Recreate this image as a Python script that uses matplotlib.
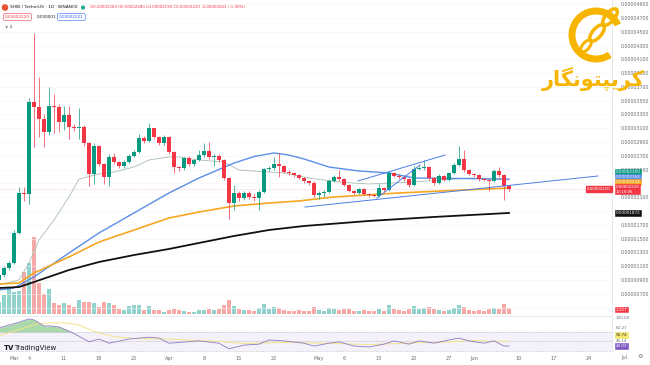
import numpy as np
import pandas as pd
import matplotlib
matplotlib.use("Agg")
import matplotlib.pyplot as plt
import matplotlib.dates as mdates
from matplotlib.patches import Arc, Ellipse, Circle
from matplotlib.transforms import blended_transform_factory as blend

UNIT = 1e-8  # prices below are in units of 0.00000001 USDT
first_day = "2024-02-27"

opens = [900, 972, 1074, 1146, 1582, 2162, 2147, 3481, 3408, 3234,
         3046, 3423, 3408, 3191, 3292, 3118, 3104, 3118, 2886, 2437,
         2843, 2582, 2394, 2684, 2611, 2553, 2611, 2698, 2756, 2959,
         2916, 3104, 2974, 2886, 2974, 2756, 2538, 2524, 2669, 2582,
         2640, 2712, 2770, 2684, 2698, 2640, 2379, 2016, 2162, 2089,
         2162, 2104, 2089, 2176, 2510, 2524, 2582, 2553, 2466, 2452,
         2422, 2379, 2336, 2306, 2132, 2162, 2176, 2336, 2394, 2364,
         2278, 2190, 2162, 2220, 2147, 2132, 2118, 2234, 2205, 2452,
         2408, 2394, 2364, 2278, 2510, 2524, 2538, 2379, 2306, 2408,
         2350, 2452, 2568, 2655, 2495, 2437, 2422, 2364, 2350, 2336,
         2480, 2422, 2263]
closes = [972, 1074, 1146, 1582, 2162, 2147, 3481, 3408, 3234, 3046,
          3423, 3408, 3191, 3292, 3118, 3104, 3118, 2886, 2437, 2843,
          2582, 2394, 2684, 2611, 2553, 2611, 2698, 2756, 2959, 2916,
          3104, 2974, 2886, 2974, 2756, 2538, 2524, 2669, 2582, 2640,
          2712, 2770, 2684, 2698, 2640, 2379, 2016, 2162, 2089, 2162,
          2104, 2089, 2176, 2510, 2524, 2582, 2553, 2466, 2452, 2422,
          2379, 2336, 2306, 2132, 2162, 2176, 2336, 2394, 2364, 2278,
          2190, 2162, 2220, 2147, 2132, 2118, 2234, 2205, 2452, 2408,
          2394, 2364, 2278, 2510, 2524, 2538, 2379, 2306, 2408, 2350,
          2452, 2568, 2655, 2495, 2437, 2422, 2364, 2350, 2336, 2480,
          2422, 2263, 2220]
highs = [1000, 1100, 1180, 1620, 2250, 2250, 3540, 4480, 3840, 3300,
         3700, 3600, 3450, 3420, 3430, 3160, 3390, 3150, 2900, 2880,
         2860, 2600, 2720, 2740, 2630, 2640, 2720, 2790, 3010, 2990,
         3180, 3110, 2990, 3000, 2990, 2770, 2560, 2690, 2700, 2660,
         2780, 2880, 2900, 2730, 2720, 2660, 2400, 2280, 2190, 2190,
         2190, 2140, 2200, 2530, 2560, 2690, 2740, 2570, 2490, 2470,
         2440, 2400, 2350, 2330, 2190, 2200, 2360, 2420, 2500, 2380,
         2290, 2210, 2240, 2240, 2160, 2150, 2290, 2250, 2480, 2470,
         2440, 2410, 2380, 2560, 2560, 2640, 2560, 2400, 2430, 2420,
         2470, 2590, 2840, 2780, 2510, 2450, 2440, 2380, 2370, 2510,
         2540, 2440, 2280]
lows = [870, 950, 1050, 1130, 1560, 2050, 2000, 2830, 2980, 2830,
        3000, 3030, 3050, 3080, 2950, 3060, 2950, 2850, 2270, 2290,
        2550, 2290, 2270, 2580, 2520, 2530, 2590, 2680, 2740, 2880,
        2900, 2950, 2860, 2860, 2730, 2450, 2480, 2490, 2560, 2560,
        2620, 2690, 2660, 2550, 2610, 2350, 1790, 1920, 2050, 2060,
        2080, 2050, 1920, 2160, 2480, 2500, 2400, 2450, 2420, 2400,
        2360, 2310, 2280, 2100, 2080, 2100, 2160, 2320, 2340, 2260,
        2170, 2140, 2140, 2130, 2110, 2100, 2100, 2180, 2190, 2390,
        2370, 2340, 2250, 2270, 2490, 2500, 2350, 2280, 2290, 2330,
        2340, 2440, 2550, 2470, 2420, 2400, 2340, 2330, 2190, 2320,
        2400, 2060, 2190]
# volume, trillion SHIB
volumes = [2.4, 3.8, 5.2, 4.4, 4.6, 8.4, 10.2, 15.4, 6.2, 4.0,
           5.0, 2.2, 1.8, 2.2, 1.8, 1.4, 2.8, 2.4, 2.4, 2.2,
           1.4, 2.4, 2.2, 1.8, 1.0, 0.8, 1.6, 1.8, 1.8, 0.8,
           1.6, 0.8, 0.8, 0.4, 0.8, 1.0, 0.8, 0.6, 0.4, 0.4,
           0.8, 0.8, 1.0, 0.8, 1.0, 1.8, 2.8, 1.6, 1.0, 0.8,
           0.8, 0.6, 1.2, 2.0, 1.0, 1.4, 1.2, 0.8, 0.6, 0.6,
           0.8, 0.6, 0.6, 1.4, 0.8, 0.6, 1.2, 1.0, 0.8, 1.0,
           1.0, 0.6, 0.6, 0.8, 0.6, 0.6, 1.0, 0.6, 1.8, 1.0,
           0.8, 0.6, 1.0, 1.6, 1.0, 1.2, 1.4, 1.0, 0.8, 0.6,
           0.8, 1.2, 1.8, 1.4, 0.8, 0.6, 0.8, 0.6, 1.0, 1.2,
           1.0, 2.0, 1.2]

# moving averages read at a few candles (candle number, value)
ma20_idx = [1, 5, 7, 9, 12, 15, 17, 21, 24, 28, 31, 35, 37, 41, 46, 49, 58, 63, 69, 75, 84, 95, 103]
ma20_val = [828, 900, 1146, 1480, 1770, 2104, 2364, 2437, 2466, 2538, 2640, 2684, 2684, 2640,
            2611, 2495, 2452, 2379, 2321, 2292, 2321, 2379, 2350]
ma50_idx = [1, 4, 8, 15, 21, 28, 35, 41, 48, 52, 56, 59, 62, 67, 73, 79, 84, 103]
ma50_val = [755, 784, 944, 1292, 1582, 1872, 2162, 2379, 2596, 2690, 2742, 2712, 2655, 2538,
            2480, 2452, 2379, 2364]
ma100_idx = [1, 5, 8, 15, 21, 28, 35, 41, 48, 55, 61, 68, 81, 94, 103]
ma100_val = [842, 857, 1002, 1234, 1451, 1625, 1799, 1886, 1973, 2016, 2046, 2104, 2162, 2205, 2234]
ma200_idx = [1, 5, 8, 15, 21, 28, 35, 41, 48, 55, 62, 75, 88, 103]
ma200_val = [784, 798, 871, 1045, 1161, 1262, 1350, 1437, 1538, 1625, 1683, 1756, 1814, 1872]

rsi_idx = [1, 3, 5, 7, 8, 10, 11, 13, 15, 17, 19, 21, 23, 27, 31, 33, 35, 41, 45, 47, 50, 53, 55,
           58, 62, 64, 67, 69, 72, 75, 78, 80, 83, 85, 88, 91, 93, 95, 98, 100, 102, 103]
rsi_val = [79, 85, 91, 98, 96, 83, 83, 81, 72, 61, 49, 55, 46, 55, 59, 57, 46, 51, 46, 34, 42, 44, 53,
           51, 46, 40, 46, 49, 40, 38, 44, 51, 44, 51, 46, 53, 57, 51, 46, 51, 40, 40.03]
rsima_idx = [1, 4, 7, 9, 12, 15, 17, 19, 21, 24, 28, 35, 40, 45, 50, 55, 60, 65, 70, 75, 80, 85,
             90, 95, 100, 103]
rsima_val = [62, 72, 82, 88, 90, 89, 85, 76, 68, 60, 56, 55, 52, 50, 45, 47, 48, 46, 45, 43, 45,
             47, 48, 52, 50, 50.74]

trendlines = [
    ("2024-04-28 05:00", 1958, "2024-06-25 19:00", 2408),
    ("2024-05-08 19:00", 2336, "2024-05-26 05:00", 2712),
    ("2024-05-12 14:00", 2089, "2024-05-21 05:00", 2568),
]

tick_days = ["2024-03-01", "2024-03-04", "2024-03-11", "2024-03-18", "2024-03-25",
             "2024-04-01", "2024-04-08", "2024-04-15", "2024-04-22", "2024-05-01",
             "2024-05-06", "2024-05-13", "2024-05-20", "2024-05-27", "2024-06-01",
             "2024-06-10", "2024-06-17", "2024-06-24", "2024-07-01"]
tick_names = ["Mar", "4", "11", "18", "25", "Apr", "8", "15", "22", "May",
              "6", "13", "20", "27", "Jun", "10", "17", "24", "Jul"]

GREEN = "#089981"
RED = "#f23645"
GOLD = "#f7b500"
AXC = "#6a6d78"


def fmt(v):
    return f"{v * UNIT:.8f}"


def tag(axis, y, s, fc, tc="white", ec=None, size=3.0):
    axis.text(1.006, y, s, transform=blend(axis.transAxes, axis.transData),
              fontsize=size, color=tc, va="center", ha="left", clip_on=False,
              bbox=dict(boxstyle="square,pad=0.2", fc=fc, ec=ec or fc, lw=0.4))


def main():
    days = pd.date_range(first_day, periods=len(closes), freq="D")
    x = mdates.date2num(days)
    x0 = x[0]
    o = np.array(opens) * UNIT
    c = np.array(closes) * UNIT
    h = np.array(highs) * UNIT
    l = np.array(lows) * UNIT
    up = c >= o
    cols = np.where(up, GREEN, RED)

    fig = plt.figure(figsize=(6.5, 3.65), dpi=100)
    fig.patch.set_facecolor("white")

    # volume underneath the candles
    vax = fig.add_axes([0, 51 / 365, 612 / 650, 314 / 365])
    vcols = np.where(up, "#92d2cc", "#f7a9a7")
    vax.bar(x, volumes, width=0.72, color=vcols, zorder=1)
    vax.set_ylim(0, 62.8)
    vax.axis("off")

    ax = fig.add_axes([0, 51 / 365, 612 / 650, 314 / 365], sharex=vax)
    ax.set_zorder(2)
    ax.patch.set_visible(False)
    ax.set_xlim(x0 + 0.2, x0 + 122.6)
    ax.set_ylim(407 * UNIT, 4960 * UNIT)

    ax.vlines(x, l, h, color=cols, lw=0.5, zorder=3)
    ax.bar(x, c - o, bottom=o, width=0.7, color=cols, zorder=4)

    ax.plot(x0 + np.array(ma20_idx) - 1, np.array(ma20_val) * UNIT, color="#a9bdb0", lw=0.6, zorder=2)
    ax.plot(x0 + np.array(ma50_idx) - 1, np.array(ma50_val) * UNIT, color="#5b8ee6", lw=1.0, zorder=2)
    ax.plot(x0 + np.array(ma100_idx) - 1, np.array(ma100_val) * UNIT, color="#f5a623", lw=1.2, zorder=2)
    ax.plot(x0 + np.array(ma200_idx) - 1, np.array(ma200_val) * UNIT, color="#111111", lw=1.3, zorder=2)

    for d1, p1, d2, p2 in trendlines:
        ax.plot(mdates.date2num(pd.to_datetime([d1, d2])), [p1 * UNIT, p2 * UNIT],
                color="#4d7fe6", lw=0.7, zorder=5)

    ax.axhline(c[-1], color=RED, lw=0.4, ls=(0, (1, 2)), alpha=0.6, zorder=1)

    ticks = np.arange(500, 4901, 200)
    ax.set_yticks(ticks * UNIT)
    # labels under the indicator / volume tags are covered in the original
    ax.set_yticklabels(["" if t in (500, 1900, 2300) else fmt(t) for t in ticks])
    ax.yaxis.tick_right()
    ax.tick_params(axis="y", length=0, labelsize=3.4, labelcolor=AXC, pad=6)
    ax.tick_params(axis="x", length=0, labelbottom=False)
    ax.grid(axis="y", color="#f4f4f6", lw=0.4)
    for s in ["top", "left", "bottom"]:
        ax.spines[s].set_visible(False)
    ax.spines["right"].set_color("#e0e3eb")
    ax.spines["right"].set_linewidth(0.6)

    # price scale tags
    tag(ax, 2462 * UNIT, fmt(ma20_val[-1]), GREEN)
    tag(ax, 2390 * UNIT, fmt(ma50_val[-1]), "#5b8ee6")
    tag(ax, 2318 * UNIT, fmt(ma100_val[-1]), "#f5a623")
    tag(ax, 2215 * UNIT, fmt(closes[-1]) + "\n12:10:06", RED, size=2.8)
    tag(ax, ma200_val[-1] * UNIT, fmt(ma200_val[-1]), "#111111")
    tag(ax, 470 * UNIT, f"{volumes[-1]:.2f}T", RED)
    ax.text(0.998, c[-1], fmt(closes[-1]), transform=blend(ax.transAxes, ax.transData),
            fontsize=2.8, color="white", ha="right", va="center",
            bbox=dict(boxstyle="square,pad=0.2", fc=RED, ec=RED))

    # RSI pane
    rax = fig.add_axes([0, 13 / 365, 612 / 650, 36 / 365], sharex=ax)
    rax.set_ylim(27.2, 104.3)
    rax.axhspan(30, 70, color="#7e57c2", alpha=0.08, lw=0)
    for lv in (70, 50, 30):
        rax.axhline(lv, color="#a3a6af", lw=0.4, ls=(0, (2, 2)))
    rx = x0 + np.array(rsi_idx) - 1
    rv = np.array(rsi_val, dtype=float)
    rax.fill_between(rx, rv, 70, where=rv > 70, interpolate=True, color="#66bb6a", alpha=0.55, lw=0)
    rax.plot(x0 + np.array(rsima_idx) - 1, rsima_val, color="#f3e48a", lw=0.7)
    rax.plot(rx, rv, color="#8e7cc3", lw=0.6)
    rax.set_xticks(mdates.date2num(pd.to_datetime(tick_days[:-1])))
    rax.set_xticklabels(tick_names[:-1])
    rax.tick_params(axis="x", length=0, labelsize=3.6, labelcolor=AXC, pad=3)
    rax.tick_params(axis="y", left=False, labelleft=False)
    rax.set_xlim(x0 + 0.2, x0 + 122.6)
    for s in ["left", "bottom"]:
        rax.spines[s].set_visible(False)
    rax.spines["right"].set_color("#e0e3eb")
    rax.spines["right"].set_linewidth(0.6)
    rax.spines["top"].set_color("#e0e3eb")
    rax.spines["top"].set_linewidth(0.5)
    # the July label falls under the price scale
    rax.text(mdates.date2num(pd.Timestamp(tick_days[-1])), -0.14, tick_names[-1],
             transform=blend(rax.transData, rax.transAxes), fontsize=3.6, color=AXC,
             ha="center", va="center", clip_on=False)
    tr = blend(rax.transAxes, rax.transData)
    rax.text(1.006, 100, "100.00", transform=tr, fontsize=3.0, color=AXC, va="center", clip_on=False)
    rax.text(1.006, 79, "62.27", transform=tr, fontsize=3.0, color=AXC, va="center", clip_on=False)
    tag(rax, 64, f"{rsima_val[-1]:.2f}", "#f5e66a", tc="#333333")
    rax.text(1.006, 51, "45.14", transform=tr, fontsize=3.0, color=AXC, va="center", clip_on=False)
    tag(rax, 40, f"{rsi_val[-1]:.2f}", "#7e57c2")

    # overlay for header, watermark and logo (pixel coordinates)
    ov = fig.add_axes([0, 0, 1, 1])
    ov.set_xlim(0, 650)
    ov.set_ylim(365, 0)
    ov.axis("off")
    ov.set_zorder(10)

    ov.add_patch(Circle((5, 7.5), 2.6, color="#e8532f"))
    ov.text(9.5, 7.5, "SHIB / TetherUS · 1D · BINANCE", fontsize=3.2, color="#131722", va="center")
    ov.add_patch(Circle((83, 7.5), 1.4, color="#22ab94"))
    chg = closes[-1] - opens[-1]
    ohlc = (f"O{fmt(opens[-1])} H{fmt(highs[-1])} L{fmt(lows[-1])} C{fmt(closes[-1])} "
            f"{chg * UNIT:.8f} ({chg / opens[-1] * 100:+.2f}%)")
    ov.text(90, 7.5, ohlc, fontsize=2.9, color=RED, va="center")
    ov.text(5, 17, fmt(closes[-1]), fontsize=3.0, color=RED, va="center",
            bbox=dict(boxstyle="round,pad=0.35", fc="white", ec=RED, lw=0.4))
    ov.text(37, 17, "0.000001", fontsize=3.0, color="#131722", va="center")
    ov.text(59, 17, fmt(closes[-1] + 1), fontsize=3.0, color="#2962ff", va="center",
            bbox=dict(boxstyle="round,pad=0.35", fc="white", ec="#2962ff", lw=0.4))
    ov.text(5, 27, "∨ 1", fontsize=3.2, color="#131722", va="center")

    # logo
    ov.add_patch(Arc((596, 35), 48, 48, theta1=55, theta2=335, color=GOLD, lw=5))
    ov.add_patch(Ellipse((610, 17), 20, 9, angle=-50, fill=False, ec=GOLD, lw=2.5))
    ov.add_patch(Ellipse((597, 33), 20, 9, angle=-50, fill=False, ec=GOLD, lw=2.5))
    ov.add_patch(Ellipse((586, 46), 14, 7, angle=-50, fill=False, ec=GOLD, lw=2.2))
    word = "\ufead\ufe8e\ufb95\ufee7\ufeee\ufe98\ufb59\ufbfe\ufeae\ufb90"
    ov.text(593, 79, word, fontsize=15, fontweight="bold", color=GOLD, ha="center", va="center")

    ov.text(4, 348, "TV", fontsize=5, fontweight="bold", color="#131722", va="center")
    ov.text(14, 348, "TradingView", fontsize=5, color="#131722", va="center")
    ov.text(640, 357, "⚙", fontsize=4.5, color=AXC, va="center", ha="center")

    fig.savefig("out.png", dpi=100, facecolor="white")


if __name__ == "__main__":
    main()
